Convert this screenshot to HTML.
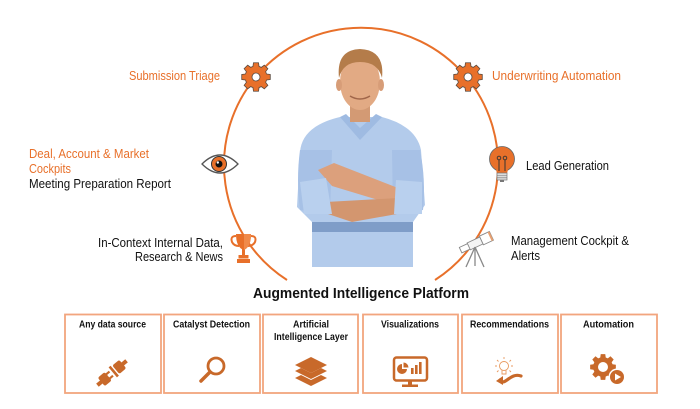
<!DOCTYPE html>
<html><head><meta charset="utf-8"><style>
html,body{margin:0;padding:0;background:#fff;}
svg{display:block;}
text{font-family:"Liberation Sans",Arial,sans-serif;}
</style></head><body>
<svg width="700" height="409" viewBox="0 0 700 409" xmlns="http://www.w3.org/2000/svg">
<rect width="700" height="409" fill="#fff"/>
<!-- big circle arc -->
<path d="M287,280 A137,137 0 1 1 435,280" fill="none" stroke="#e8702a" stroke-width="2"/>

<!-- person -->
<g>
  <path d="M300,152 Q302,126 340,117 L382,117 Q416,126 421,150 L425,205 L413,222 L413,267 L312,267 L312,222 L297,207 Z" fill="#b3cbeb"/>
  <path d="M312,222 L413,222 L413,232 L312,232 Z" fill="#7f9dc8"/>
  <path d="M340,117 L360,140 L382,117 L376,114 L360,128 L346,114 Z" fill="#9fbbe2"/>
  <path d="M300,150 Q296,180 300,210 L330,214 L332,150 Z" fill="#a7c1e6"/>
  <path d="M420,150 Q426,180 423,210 L393,214 L392,150 Z" fill="#a7c1e6"/>
  <rect x="350" y="98" width="20" height="24" fill="#d39a74"/>
  <ellipse cx="360" cy="82" rx="20" ry="28" fill="#e2aa84"/>
  <path d="M339,78 Q336,50 360,49 Q385,50 382,78 Q378,62 360,62 Q343,62 339,78 Z" fill="#b47c4a"/>
  <ellipse cx="339" cy="85" rx="3" ry="6" fill="#d79d78"/>
  <ellipse cx="381" cy="85" rx="3" ry="6" fill="#d79d78"/>
  <path d="M350,96 Q360,102 370,96" stroke="#a0664a" stroke-width="1.5" fill="none"/>
  <!-- crossed arms -->
  <path d="M318,170 L334,163 L398,188 L398,206 L332,186 Z" fill="#dca07c"/>
  <path d="M326,202 L398,198 L408,212 L352,222 L328,214 Z" fill="#d3966f"/>
  <path d="M300,182 L326,178 L332,214 L304,214 Z" fill="#b9d0ee"/>
  <path d="M396,180 L422,182 L422,214 L394,214 Z" fill="#b9d0ee"/>
</g>

<!-- gear top-left -->
<g transform="translate(256,77)">
  <polygon points="10.57,-3.03 14.28,-2.52 14.28,2.52 10.57,3.03 9.62,5.33 11.88,8.32 8.32,11.88 5.33,9.62 3.03,10.57 2.52,14.28 -2.52,14.28 -3.03,10.57 -5.33,9.62 -8.32,11.88 -11.88,8.32 -9.62,5.33 -10.57,3.03 -14.28,2.52 -14.28,-2.52 -10.57,-3.03 -9.62,-5.33 -11.88,-8.32 -8.32,-11.88 -5.33,-9.62 -3.03,-10.57 -2.52,-14.28 2.52,-14.28 3.03,-10.57 5.33,-9.62 8.32,-11.88 11.88,-8.32 9.62,-5.33" fill="#e8702a" stroke="#5a4a40" stroke-width="0.8"/>
  <circle r="4" fill="#fff" stroke="#5a4a40" stroke-width="0.8"/>
</g>
<!-- gear top-right -->
<g transform="translate(468,77)">
  <polygon points="10.57,-3.03 14.28,-2.52 14.28,2.52 10.57,3.03 9.62,5.33 11.88,8.32 8.32,11.88 5.33,9.62 3.03,10.57 2.52,14.28 -2.52,14.28 -3.03,10.57 -5.33,9.62 -8.32,11.88 -11.88,8.32 -9.62,5.33 -10.57,3.03 -14.28,2.52 -14.28,-2.52 -10.57,-3.03 -9.62,-5.33 -11.88,-8.32 -8.32,-11.88 -5.33,-9.62 -3.03,-10.57 -2.52,-14.28 2.52,-14.28 3.03,-10.57 5.33,-9.62 8.32,-11.88 11.88,-8.32 9.62,-5.33" fill="#e8702a" stroke="#5a4a40" stroke-width="0.8"/>
  <circle r="4" fill="#fff" stroke="#5a4a40" stroke-width="0.8"/>
</g>

<!-- eye -->
<path d="M202,164 Q220,146 238,164 Q220,182 202,164 Z" fill="#fff" stroke="#555" stroke-width="1.3"/>
<circle cx="219" cy="164" r="7.5" fill="#e8702a" stroke="#333" stroke-width="1"/>
<circle cx="219" cy="164" r="3.5" fill="#111"/>
<circle cx="217.8" cy="162.5" r="1.2" fill="#fff"/>

<!-- bulb -->
<circle cx="502" cy="159" r="12.5" fill="#e8702a" stroke="#666" stroke-width="0.8"/>
<path d="M496,169 L508,169 L507,174 L497,174 Z" fill="#e8702a"/>
<path d="M499,171 L499,160 M505,171 L505,160" stroke="#333" stroke-width="1" fill="none"/>
<circle cx="499" cy="158" r="1.8" fill="none" stroke="#333" stroke-width="0.9"/>
<circle cx="505" cy="158" r="1.8" fill="none" stroke="#333" stroke-width="0.9"/>
<rect x="497" y="173" width="10" height="7" fill="#ddd" stroke="#777" stroke-width="0.7"/>
<path d="M497,175.5 H507 M497,177.8 H507" stroke="#777" stroke-width="0.6"/>
<rect x="500" y="180" width="4" height="2" fill="#777"/>

<!-- trophy -->
<path d="M236,234 H251 Q251,247 243.5,250 Q236,247 236,234 Z" fill="#e8702a"/>
<path d="M236,236 Q230,236 232,242 Q234,246 239,246" fill="none" stroke="#e8702a" stroke-width="2"/>
<path d="M251,236 Q257,236 255,242 Q253,246 248,246" fill="none" stroke="#e8702a" stroke-width="2"/>
<rect x="242" y="249" width="3" height="6" fill="#e8702a"/>
<rect x="238.5" y="255" width="10" height="3.5" fill="#e8702a"/>
<rect x="237" y="259" width="13" height="4" fill="#e8702a"/>
<path d="M244,234 H251 Q251,247 244,250 Z" fill="#f08a4a"/>

<!-- telescope -->
<g transform="translate(476,243) rotate(-25)">
  <rect x="-17" y="-3" width="10" height="6" fill="#fff" stroke="#888" stroke-width="0.9"/>
  <rect x="-8" y="-3.8" width="14" height="7.6" fill="#f4f4f4" stroke="#888" stroke-width="0.9"/>
  <rect x="6" y="-4.8" width="11" height="9.6" fill="#fff" stroke="#888" stroke-width="0.9"/>
  <rect x="15" y="-4.8" width="2" height="9.6" fill="#e8a070"/>
</g>
<path d="M475,247 L466,267 M475,247 L484,267 M475,247 L475,266" stroke="#888" stroke-width="1.3" fill="none"/>

<!-- labels around circle -->
<g font-size="12.5">
  <text x="129" y="80" fill="#e8702a" textLength="91" lengthAdjust="spacingAndGlyphs">Submission Triage</text>
  <text x="492" y="80" fill="#e8702a" textLength="129" lengthAdjust="spacingAndGlyphs">Underwriting Automation</text>
  <text x="29" y="158" fill="#e8702a" textLength="120" lengthAdjust="spacingAndGlyphs">Deal, Account &amp; Market</text>
  <text x="29" y="173" fill="#e8702a" textLength="42" lengthAdjust="spacingAndGlyphs">Cockpits</text>
  <text x="29" y="188" fill="#111" textLength="142" lengthAdjust="spacingAndGlyphs">Meeting Preparation Report</text>
  <text x="526" y="170" fill="#111" textLength="83" lengthAdjust="spacingAndGlyphs">Lead Generation</text>
  <text x="98" y="247" fill="#111" textLength="125" lengthAdjust="spacingAndGlyphs">In-Context Internal Data,</text>
  <text x="135" y="261" fill="#111" textLength="88" lengthAdjust="spacingAndGlyphs">Research &amp; News</text>
  <text x="511" y="245" fill="#111" textLength="118" lengthAdjust="spacingAndGlyphs">Management Cockpit &amp;</text>
  <text x="511" y="260" fill="#111" textLength="29" lengthAdjust="spacingAndGlyphs">Alerts</text>
</g>

<!-- title -->
<text x="253" y="298" font-size="15" font-weight="bold" fill="#111" textLength="216" lengthAdjust="spacingAndGlyphs">Augmented Intelligence Platform</text>

<!-- boxes -->
<g fill="none" stroke="#f2a57e" stroke-width="1.8">
  <rect x="65" y="314.5" width="96" height="78.5"/>
  <rect x="164" y="314.5" width="96" height="78.5"/>
  <rect x="263" y="314.5" width="95" height="78.5"/>
  <rect x="363" y="314.5" width="95" height="78.5"/>
  <rect x="462" y="314.5" width="96" height="78.5"/>
  <rect x="561" y="314.5" width="96" height="78.5"/>
</g>
<g font-size="10" font-weight="bold" fill="#111" text-anchor="middle">
  <text x="112.5" y="327.5" textLength="67" lengthAdjust="spacingAndGlyphs">Any data source</text>
  <text x="211.5" y="327.5" textLength="77" lengthAdjust="spacingAndGlyphs">Catalyst Detection</text>
  <text x="311" y="327.5" textLength="36" lengthAdjust="spacingAndGlyphs">Artificial</text>
  <text x="311" y="340" textLength="74" lengthAdjust="spacingAndGlyphs">Intelligence Layer</text>
  <text x="410" y="327.5" textLength="58" lengthAdjust="spacingAndGlyphs">Visualizations</text>
  <text x="509.5" y="327.5" textLength="79" lengthAdjust="spacingAndGlyphs">Recommendations</text>
  <text x="608.5" y="327.5" textLength="51" lengthAdjust="spacingAndGlyphs">Automation</text>
</g>

<!-- box icons -->
<g fill="#c8692a">
  <!-- plug -->
  <g transform="translate(112,373) rotate(-40)">
    <rect x="-19" y="-2" width="6" height="4"/>
    <rect x="-14" y="-5.5" width="9" height="11" rx="2"/>
    <rect x="-6" y="-3.8" width="5" height="2.2"/>
    <rect x="-6" y="1.6" width="5" height="2.2"/>
    <rect x="1" y="-6.5" width="2.6" height="13"/>
    <rect x="5" y="-5.5" width="9" height="11" rx="2"/>
    <rect x="13" y="-2" width="6" height="4"/>
  </g>
  <!-- layers -->
  <polygon points="311,357 327,365 311,373 295,365"/>
  <path d="M295,371 L301,368 L311,373 L321,368 L327,371 L311,379 Z"/>
  <path d="M295,378 L301,375 L311,380 L321,375 L327,378 L311,386 Z"/>
  <!-- monitor stand -->
  <rect x="408" y="381" width="4" height="4"/>
  <rect x="402" y="384.5" width="16" height="2.5"/>
  <!-- pie -->
  <path d="M402,369 L402,364 A5,5 0 1 0 407,369 Z"/>
  <path d="M403.5,367.5 L403.5,362.5 A5,5 0 0 1 408.5,367.5 Z"/>
  <rect x="411" y="368" width="2.6" height="6"/>
  <rect x="415" y="365" width="2.6" height="9"/>
  <rect x="419" y="362" width="2.6" height="12"/>
  <!-- automation gear -->
  <g transform="translate(603,367)">
    <polygon points="10.57,-3.03 14.28,-2.52 14.28,2.52 10.57,3.03 9.62,5.33 11.88,8.32 8.32,11.88 5.33,9.62 3.03,10.57 2.52,14.28 -2.52,14.28 -3.03,10.57 -5.33,9.62 -8.32,11.88 -11.88,8.32 -9.62,5.33 -10.57,3.03 -14.28,2.52 -14.28,-2.52 -10.57,-3.03 -9.62,-5.33 -11.88,-8.32 -8.32,-11.88 -5.33,-9.62 -3.03,-10.57 -2.52,-14.28 2.52,-14.28 3.03,-10.57 5.33,-9.62 8.32,-11.88 11.88,-8.32 9.62,-5.33" transform="scale(0.9)"/>
    <circle r="5" fill="#fff"/>
  </g>
  <circle cx="617" cy="377" r="8.5" fill="#fff"/>
  <circle cx="617" cy="377" r="7"/>
  <polygon points="615,373.5 621,377 615,380.5" fill="#fff"/>
</g>
<!-- magnifier -->
<circle cx="216" cy="366" r="8" fill="none" stroke="#c8692a" stroke-width="2.8"/>
<line x1="210" y1="372" x2="201" y2="381" stroke="#c8692a" stroke-width="3.5" stroke-linecap="round"/>
<!-- monitor screen -->
<rect x="394" y="357.5" width="33" height="23" rx="2.5" fill="none" stroke="#c8692a" stroke-width="2.5"/>
<!-- recommendations -->
<g stroke="#e89a60" stroke-width="0.9" fill="none">
  <circle cx="504" cy="366" r="4.5"/>
  <path d="M502,370 L502,374 L506,374 L506,370"/>
  <path d="M504,357 V359 M497,360 L498.5,361.5 M511,360 L509.5,361.5 M495,366 H497 M511,366 H513 M497,372 L498.5,370.5 M511,372 L509.5,370.5"/>
</g>
<path d="M500,380 C505,387 510,372 521,376" fill="none" stroke="#c8692a" stroke-width="3.2" stroke-linecap="round"/>
<polygon points="496,381 503,376 503,385" fill="#c8692a"/>
</svg>
</body></html>
